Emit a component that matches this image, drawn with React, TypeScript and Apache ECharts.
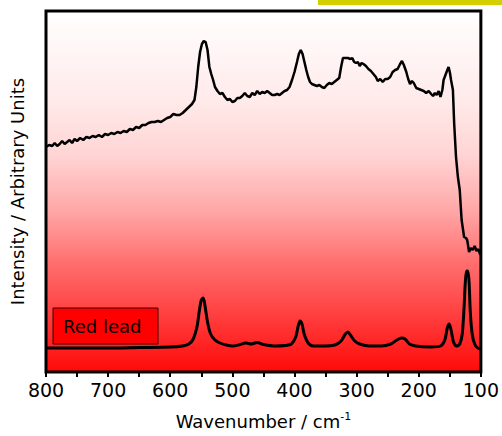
import React, { useEffect, useRef } from "react";
import * as echarts from "echarts";

// Wavenumber (cm-1) and intensity (arbitrary units) pairs
const upperWave = [800,795,790,786,782,778,774,770,766,762,758,754,750,745,740,735,730,725,720,715,710,705,700,695,690,685,680,675,670,665,660,655,650,645,640,635,630,625,620,615,610,605,600,595,590,585,580,575,570,565,561,558,555,552,549,546,543,540,537,534,531,528,524,520,516,512,508,504,500,496,492,488,484,480,476,472,468,464,460,456,452,448,444,440,436,432,428,424,420,416,412,408,404,400,396,393,390,387,384,381,378,375,372,368,364,360,356,352,348,344,340,336,332,328,325,322,318,314,310,307,304,301,298,295,292,289,285,281,277,273,269,266,262,258,254,250,246,242,238,234,230,227,224,220,217,214,211,208,204,200,196,192,188,184,180,177,174,171,168,165,162,160,157,154,152,150,148,145,143,140,137,134,131,127,124,122,119,116,113,110,107,104,101];
const upperVal = [225,227,226,229,226,228,231,228,230,232,229,233,231,234,232,235,234,236,235,237,235,238,237,239,238,240,239,241,240,243,242,245,244,247,247,249,250,250,251,250,252,254,255,258,257,257,259,262,265,268,272,285,305,320,328,331,330,322,305,298,292,285,281,278,279,275,272,273,270,271,274,274,276,279,276,275,279,277,281,278,280,279,281,279,277,277,278,277,279,281,282,285,292,300,310,318,322,318,310,302,295,290,288,287,286,287,285,284,287,289,288,290,292,294,305,314,314,314,313,314,310,309,310,306,309,308,306,303,301,298,295,291,293,290,293,293,295,300,302,303,308,311,307,300,293,288,291,289,284,283,282,281,279,281,278,276,279,277,281,275,282,292,297,302,305,300,292,282,249,215,195,182,152,135,134,132,120,124,122,126,121,123,117];

const lowerWave = [800,750,700,650,600,580,570,563,557,553,550,547,544,540,535,528,520,510,500,490,478,470,460,450,430,415,405,398,394,391,388,384,378,370,350,335,325,318,314,310,303,295,280,260,245,235,228,222,215,205,180,165,158,154,151,148,144,139,134,130,127,125,123,121,119,117,114,110,105,101];
const lowerVal = [24,24,24,24.5,25,26,28,33,45,62,72,74,66,50,38,32,29,27,26,27,29,28,29.5,27.5,26,26.5,28,35,46,51,48,37,29,26,26,27,31,38,40,37,31,28,26,26,28,32,34,33,28,26,25,26,32,44,48,42,30,26,28,38,65,90,101,101,90,60,38,28,24,23];

const xTicks = [800,700,600,500,400,300,200,100];

const FONT = "'Comic Sans MS', 'DejaVu Sans', sans-serif";

export default function App() {
  const ref = useRef<HTMLDivElement>(null);
  useEffect(() => {
    if (!ref.current) return;
    const chart = echarts.init(ref.current, undefined, { renderer: "svg" });
    const upper = upperWave.map((w, i) => [w, upperVal[i]]);
    const lower = lowerWave.map((w, i) => [w, lowerVal[i]]);
    chart.setOption({
      animation: false,
      backgroundColor: "#ffffff",
      grid: {
        left: 43, right: 21, top: 11, bottom: 64,
        show: true,
        borderColor: "#000",
        borderWidth: 3,
        backgroundColor: {
          type: "linear", x: 0, y: 0, x2: 0, y2: 1,
          colorStops: [
            { offset: 0, color: "#ffffff" },
            { offset: 0.25, color: "#ffeaea" },
            { offset: 0.4, color: "#ffd4d4" },
            { offset: 0.55, color: "#ffa8a8" },
            { offset: 0.7, color: "#ff6e6e" },
            { offset: 0.85, color: "#ff3c3c" },
            { offset: 1, color: "#ff0a0a" },
          ],
        },
      },
      xAxis: {
        type: "value",
        min: 100, max: 800, interval: 50, inverse: true,
        axisLine: { show: false },
        axisTick: { show: true, inside: false, length: 5, lineStyle: { color: "#000", width: 2 } },
        splitLine: { show: false },
        axisLabel: {
          color: "#000", fontSize: 19, fontFamily: FONT, margin: 8,
          formatter: (v: number) => (xTicks.includes(v) ? String(v) : ""),
        },
        name: "{a|Wavenumber / cm}{b|-1}",
        nameLocation: "middle",
        nameGap: 39,
        nameTextStyle: {
          rich: {
            a: { fontSize: 18, fontFamily: FONT, color: "#000" },
            b: { fontSize: 11, fontFamily: FONT, color: "#000", verticalAlign: "top", padding: [0, 0, 10, 0] },
          },
        },
      },
      yAxis: {
        type: "value", min: 0, max: 361,
        axisLine: { show: false }, axisTick: { show: false },
        axisLabel: { show: false }, splitLine: { show: false },
        name: "Intensity / Arbitrary Units",
        nameLocation: "middle",
        nameGap: 20,
        nameRotate: 90,
        nameTextStyle: { fontSize: 18, fontFamily: FONT, color: "#000" },
      },
      graphic: [
        { type: "rect", shape: { x: 318, y: 0, width: 184, height: 5 }, style: { fill: "#d4d000" } },
        { type: "rect", shape: { x: 53, y: 308, width: 105, height: 36 }, style: { fill: "#ff0000", stroke: "#3a0000", lineWidth: 1 } },
        { type: "text", x: 63, y: 326, style: { text: "Red lead", fill: "#000", font: `18px ${FONT}`, verticalAlign: "middle" } },
      ],
      series: [
        { type: "line", data: upper, showSymbol: false, lineStyle: { color: "#000", width: 2.5 }, silent: true },
        { type: "line", data: lower, showSymbol: false, smooth: 0.3, lineStyle: { color: "#000", width: 3 }, silent: true },
      ],
    });
    return () => chart.dispose();
  }, []);
  return <div ref={ref} style={{ position: "fixed", left: 0, top: 0, width: 502, height: 436 }} />;
}
